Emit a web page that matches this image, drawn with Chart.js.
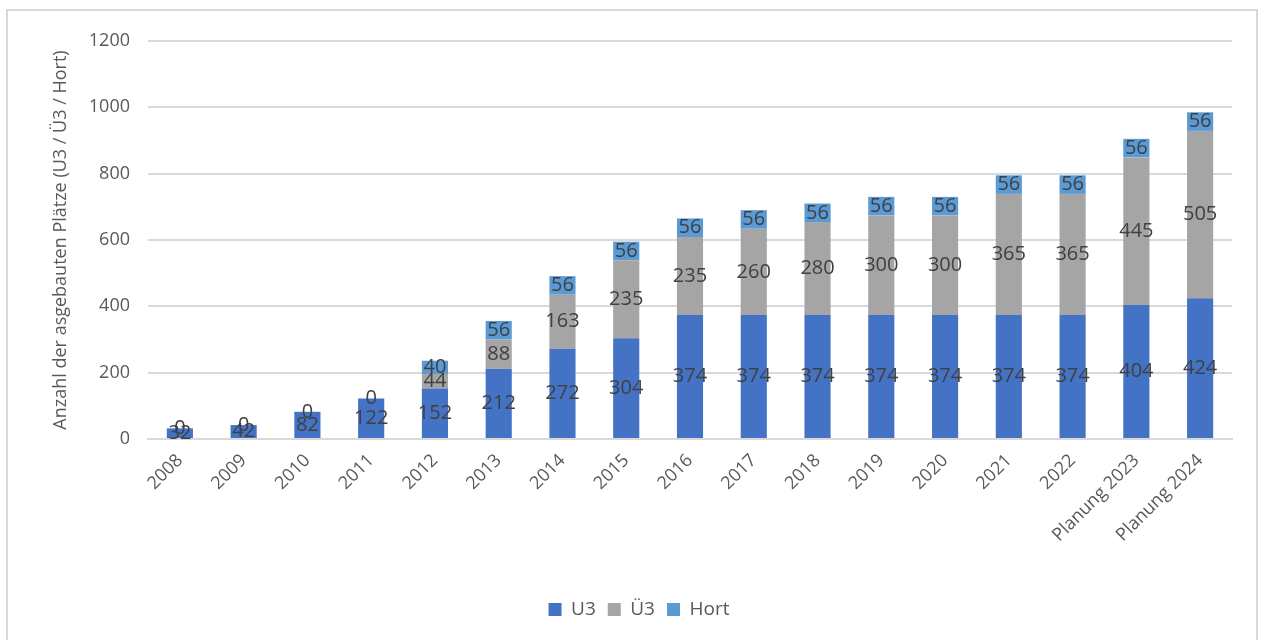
<!DOCTYPE html>
<html lang="de">
<head>
<meta charset="utf-8">
<title>Ausgebaute Plätze</title>
<script src="https://cdn.jsdelivr.net/npm/chart.js@4/dist/chart.umd.min.js"></script>
<style>
    html, body { margin: 0; padding: 0; background: #fff; }
    #frame {
        position: absolute;
        left: 6px; top: 9px;
        width: 1252px; height: 640px;
        border-left: 2px solid #d9d9d9;
        border-top: 2px solid #d9d9d9;
        border-right: 2px solid #d9d9d9;
        box-sizing: border-box;
    }
    #wrap { position: absolute; left: 0; top: 0; width: 1262px; height: 640px; }
</style>
</head>
<body>
<div id="frame"></div>
<div id="wrap"><canvas id="chart" width="1262" height="640"></canvas></div>
<script>
// Categories (years)
const years = ['2008', '2009', '2010', '2011', '2012', '2013', '2014', '2015', '2016',
    '2017', '2018', '2019', '2020', '2021', '2022', 'Planung 2023', 'Planung 2024'];

// Series values
const u3Values   = [32, 42, 82, 122, 152, 212, 272, 304, 374, 374, 374, 374, 374, 374, 374, 404, 424];
const ue3Values  = [0, 0, 0, 0, 44, 88, 163, 235, 235, 260, 280, 300, 300, 365, 365, 445, 505];
const hortValues = [null, null, null, null, 40, 56, 56, 56, 56, 56, 56, 56, 56, 56, 56, 56, 56];

// Y axis ticks
const yTicks = [0, 200, 400, 600, 800, 1000, 1200];

const FONT = '"Open Sans", "Noto Sans", sans-serif';

/**
 * Draw value labels in the middle of each stacked segment
 */
const segmentLabels = {
    id: 'segmentLabels',
    afterDatasetsDraw(chart) {
        const ctx = chart.ctx;
        ctx.save();
        ctx.font = '20px ' + FONT;
        ctx.fillStyle = '#404040';
        ctx.textAlign = 'center';
        ctx.textBaseline = 'middle';
        chart.data.datasets.forEach((ds, i) => {
            const meta = chart.getDatasetMeta(i);
            meta.data.forEach((bar, j) => {
                const v = ds.data[j];
                if (v === null || v === undefined) return;
                const y = (bar.y + bar.base) / 2;
                ctx.fillText(String(v), bar.x, y);
            });
        });
        ctx.restore();
    }
};

const ctx = document.getElementById('chart').getContext('2d');

new Chart(ctx, {
    type: 'bar',
    data: {
        labels: years,
        datasets: [
            { label: 'U3', data: u3Values, backgroundColor: '#4472C4' },
            { label: 'Ü3', data: ue3Values, backgroundColor: '#A5A5A5' },
            { label: 'Hort', data: hortValues, backgroundColor: '#5B9BD5' }
        ]
    },
    options: {
        responsive: false,
        animation: false,
        layout: { padding: { left: 46, right: 30, top: 41, bottom: 11 } },
        datasets: {
            bar: { categoryPercentage: 1, barPercentage: 0.41 }
        },
        plugins: {
            legend: {
                position: 'bottom',
                labels: {
                    font: { family: FONT, size: 19 },
                    color: '#595959',
                    boxWidth: 13,
                    boxHeight: 13,
                    padding: 12
                }
            },
            tooltip: { enabled: false }
        },
        scales: {
            x: {
                stacked: true,
                grid: { display: false },
                border: { color: '#d9d9d9', width: 2 },
                ticks: {
                    font: { family: FONT, size: 18 },
                    color: '#595959',
                    maxRotation: 45,
                    minRotation: 45,
                    autoSkip: false
                },
                afterFit(scale) { scale.height = 149; }
            },
            y: {
                stacked: true,
                min: 0,
                max: 1200,
                afterBuildTicks(scale) { scale.ticks = yTicks.map(v => ({ value: v })); },
                grid: { color: '#d9d9d9', lineWidth: 2, drawTicks: false },
                border: { display: false },
                ticks: {
                    font: { family: FONT, size: 18 },
                    color: '#595959',
                    padding: 18,
                    callback: v => String(v)
                },
                title: {
                    display: true,
                    text: 'Anzahl der asgebauten Plätze (U3 / Ü3 / Hort)',
                    font: { family: FONT, size: 18 },
                    color: '#595959'
                },
                afterFit(scale) { scale.width = 102; }
            }
        }
    },
    plugins: [segmentLabels]
});
</script>
</body>
</html>
